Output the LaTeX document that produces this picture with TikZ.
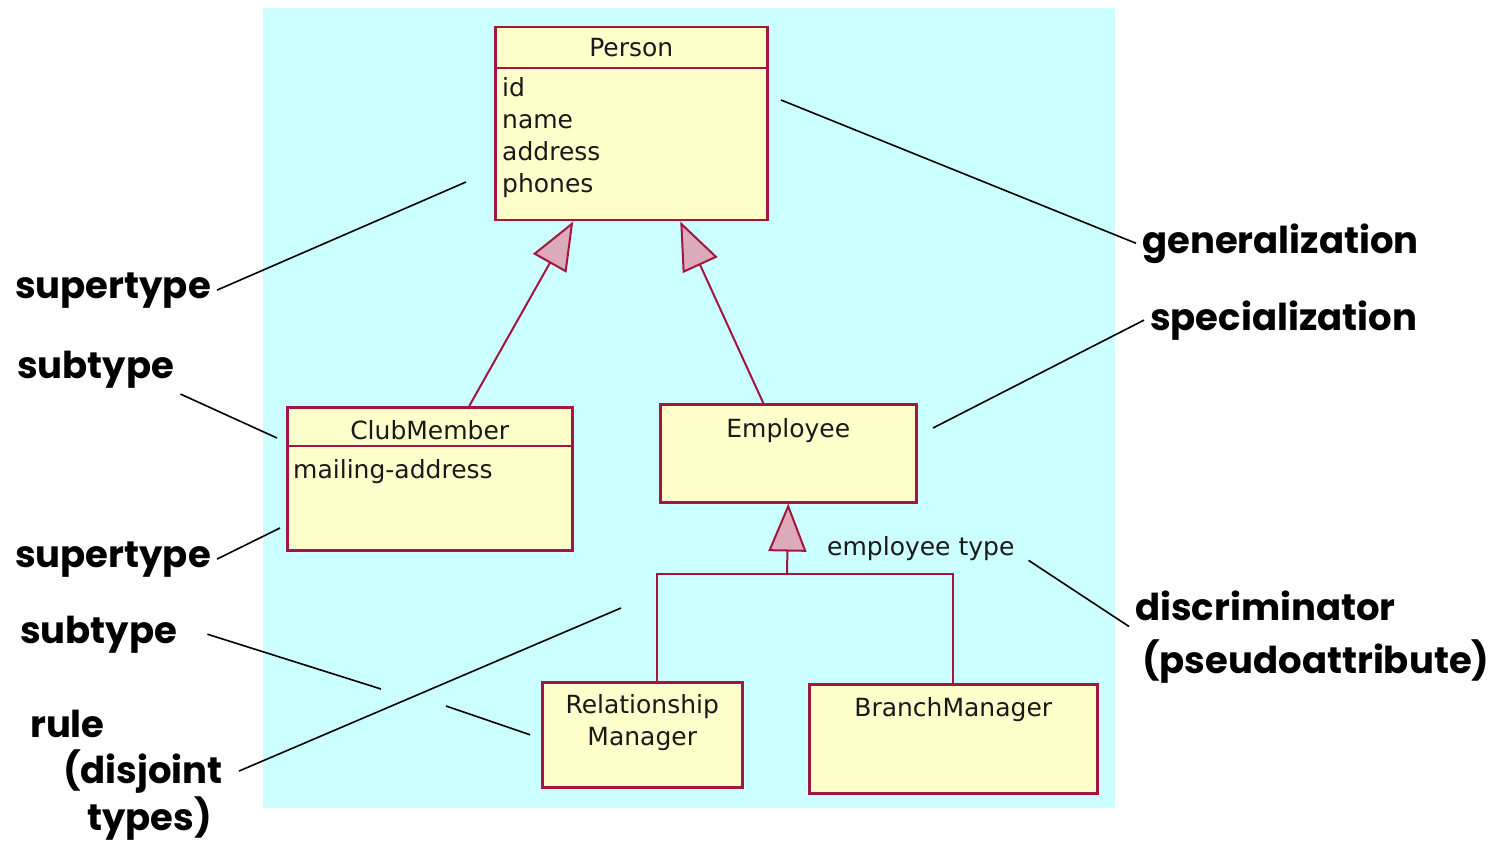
\documentclass[tikz,border=0pt]{standalone}
\usepackage{fontspec}
\setmainfont{DejaVu Sans}
\newfontfamily\notefont{Poppins}
\usetikzlibrary{arrows.meta,positioning,calc}

\definecolor{bgcyan}{HTML}{CCFFFF}
\definecolor{boxfill}{HTML}{FFFFCC}
\definecolor{boxline}{HTML}{A3163F}
\definecolor{tripink}{HTML}{DDAABB}

\tikzset{
  classbox/.style={draw=boxline, fill=boxfill, line width=2.5pt, anchor=north west, inner sep=0pt},
  classtext/.style={font=\fontsize{25}{32}\selectfont, text=black!90, inner sep=0pt},
  genline/.style={draw=boxline, line width=2pt},
  gentip/.style={-{Triangle[length=48pt,width=38pt,fill=tripink]}},
  notelabel/.style={font=\notefont\bfseries\fontsize{37}{40}\selectfont, inner sep=6pt, anchor=base west},
  noteline/.style={draw=black, line width=1.6pt},
}

\begin{document}
\begin{tikzpicture}[x=1pt,y=-1pt]
 \useasboundingbox (0,0) rectangle (1491,845);
 \fill[bgcyan] (263,8) rectangle (1115,808);

 % classes
 \node[classbox, minimum width=272pt, minimum height=193pt] (person) at (494,26) {};
 \draw[genline, line width=2.5pt] ([yshift=-42pt]person.north west) -- ([yshift=-42pt]person.north east);
 \node[classtext, anchor=base] (personname) at ([yshift=-31pt]person.north) {Person};
 \foreach \attr [count=\i] in {id,name,address,phones}
   \node[classtext, anchor=base west] (attr\i) at ([shift={(8pt,{-71pt-32pt*(\i-1)})}]person.north west) {\attr};

 \node[classbox, minimum width=285pt, minimum height=143pt] (club) at (286,406) {};
 \draw[genline, line width=2.5pt] ([yshift=-40pt]club.north west) -- ([yshift=-40pt]club.north east);
 \node[classtext, anchor=base] (clubname) at ([yshift=-33pt]club.north) {ClubMember};
 \node[classtext, anchor=base west] (mailing) at ([shift={(7pt,-72pt)}]club.north west) {mailing-address};

 \node[classbox, minimum width=256pt, minimum height=98pt] (employee) at (659,403) {};
 \node[classtext, anchor=base] (employeename) at ([yshift=-34pt]employee.north) {Employee};

 \node[classbox, minimum width=200pt, minimum height=105pt] (rm) at (541,681) {};
 \node[classtext, anchor=base] (rmname) at ([yshift=-32pt]rm.north) {Relationship};
 \node[classtext, anchor=base] (rmname2) at ([yshift=-64pt]rm.north) {Manager};

 \node[classbox, minimum width=288pt, minimum height=109pt] (bm) at (808,683) {};
 \node[classtext, anchor=base] (bmname) at ([yshift=-33pt]bm.north) {BranchManager};

 % generalizations
 \draw[genline, gentip] ([xshift=39.5pt]club.north) -- ([xshift=-58pt]person.south);
 \draw[genline, gentip] ([xshift=-25pt]employee.north) -- ([xshift=49pt]person.south);
 \coordinate (fork) at (787,574);
 \draw[genline, gentip] (fork) -- (employee.south);
 \draw[genline] ([xshift=15pt]rm.north) |- (fork) -| (bm.north);
 \node[classtext, anchor=base west] (etype) at (827,555) {employee type};

 % notes
 \node[notelabel] (supA) at (9,298) {supertype};
 \node[notelabel] (subA) at (11,378) {subtype};
 \node[notelabel] (supB) at (9,567) {supertype};
 \node[notelabel] (subB) at (14,643) {subtype};
 \node[notelabel] (rule) at (24,737) {rule};
 \node[notelabel] (disj) at (57,783) {(disjoint};
 \node[notelabel] (typs) at (81,830) {types)};
 \node[notelabel] (gen) at (1136,253) {generalization};
 \node[notelabel] (spec) at (1144,330) {specialization};
 \node[notelabel] (disc) at (1129,620) {discriminator};
 \node[notelabel] (pseudo) at (1136,673) {(pseudoattribute)};

 \coordinate (supAend) at (466,182);
 \coordinate (genend) at (781,100);
 \coordinate (subAend) at (277,438);
 \coordinate (specend) at (933,428);
 \coordinate (supBend) at (280,528);
 \coordinate (subBgapA) at (381,689);
 \coordinate (subBgapB) at (446,706);
 \coordinate (ruleend) at (621,608);
 \draw[noteline] (supA.east) -- (supAend);
 \draw[noteline] (genend) -- (gen.west);
 \draw[noteline] (subA.south east) -- (subAend);
 \draw[noteline] (specend) -- (spec.west);
 \draw[noteline] (supB.east) -- (supBend);
 \draw[noteline] ([xshift=24pt]subB.east) -- (subBgapA) (subBgapB) -- ([xshift=-11pt]rm.west);
 \draw[noteline] ([xshift=10pt]disj.east) -- (ruleend);
 \draw[noteline] ([xshift=14pt]etype.south east) -- (disc.south west);
\end{tikzpicture}
\end{document}
